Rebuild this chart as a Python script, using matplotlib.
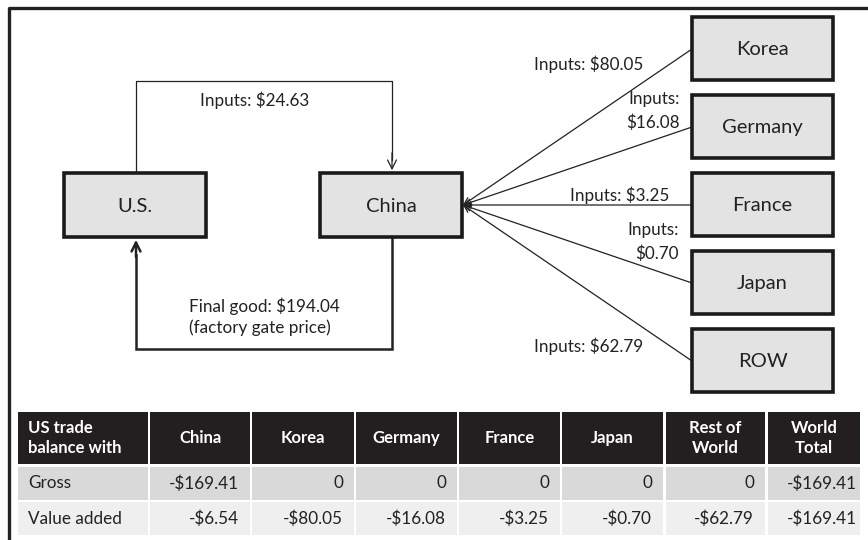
import matplotlib.pyplot as plt
from matplotlib.patches import Rectangle, FancyArrowPatch

plt.rcParams['font.family'] = ['Lato', 'DejaVu Sans']

# values shown in the diagram (iPhone value chain)
us_inputs = 24.63
final_good = 194.04
suppliers = ["Korea", "Germany", "France", "Japan", "ROW"]
supplier_inputs = [80.05, 16.08, 3.25, 0.70, 62.79]

# trade balance table
col_headers = ["US trade\nbalance with", "China", "Korea", "Germany", "France",
               "Japan", "Rest of\nWorld", "World\nTotal"]
row_labels = ["Gross", "Value added"]
gross = [-169.41, 0, 0, 0, 0, 0, -169.41]
value_added = [-6.54, -80.05, -16.08, -3.25, -0.70, -62.79, -169.41]


def fmt(v):
    if v == 0:
        return "0"
    return "-$%.2f" % abs(v)


fig = plt.figure(figsize=(8.68, 5.40), dpi=100)
ax = fig.add_axes([0, 0, 1, 1])
ax.set_xlim(0, 868)
ax.set_ylim(540, 0)
ax.axis("off")

line_col = "#222222"
txt_col = "#222222"
box_fill = "#e3e3e3"

# outer frame (top and left only are visible)
ax.plot([9, 9, 868], [540, 8, 8], color="#222222", lw=2.4, solid_capstyle="butt")


def box(x0, y0, x1, y1, text):
    ax.add_patch(Rectangle((x0, y0), x1 - x0, y1 - y0, facecolor=box_fill,
                           edgecolor="#1a1a1a", lw=2.6, zorder=3))
    ax.text((x0 + x1) / 2, (y0 + y1) / 2 + 1, text, ha="center", va="center",
            fontsize=14.5, color=txt_col, zorder=4)


# U.S. and China boxes
box(64, 173, 206, 237, "U.S.")
box(320, 173, 462, 237, "China")

# supplier boxes
top = 17
for i, name in enumerate(suppliers):
    y0 = top + i * 78
    box(692, y0, 833, y0 + 63, name)

# US -> China inputs
ax.plot([136, 136, 392, 392], [173, 81, 81, 160], color=line_col, lw=0.9, zorder=1)
ax.add_patch(FancyArrowPatch((392, 150), (392, 173), arrowstyle="->",
                             mutation_scale=16, color=line_col, lw=0.9, zorder=2))
ax.text(255, 100, "Inputs: $%.2f" % us_inputs, ha="center", va="center",
        fontsize=12.3, color=txt_col)

# China -> US final good
ax.plot([392, 392, 136, 136], [237, 349, 349, 255], color=line_col, lw=1.8,
        zorder=1, solid_joinstyle="miter")
ax.add_patch(FancyArrowPatch((136, 260), (136, 237), arrowstyle="->",
                             mutation_scale=16, color=line_col, lw=1.8, zorder=2))
ax.text(189, 317, "Final good: $%.2f\n(factory gate price)" % final_good,
        ha="left", va="center", fontsize=12.3, color=txt_col, linespacing=1.3)

# supplier -> China inputs
label_pos = [(643, 64), (680, 111), (669, 195), (679, 242), (643, 346)]
two_line = [False, True, False, True, False]
for i, val in enumerate(supplier_inputs):
    y_mid = top + i * 78 + 32
    ax.add_patch(FancyArrowPatch((692, y_mid), (463, 205), arrowstyle="->",
                                 mutation_scale=12, color=line_col, lw=0.9,
                                 shrinkA=0, shrinkB=0, zorder=2))
    if two_line[i]:
        txt = "Inputs:\n$%.2f" % val
    else:
        txt = "Inputs: $%.2f" % val
    ax.text(label_pos[i][0], label_pos[i][1], txt, ha="right", va="center",
            multialignment="right", fontsize=12.3, color=txt_col, linespacing=1.5)

# table
col_edges = [(18, 148), (150, 250), (252, 354), (356, 457), (459, 560),
             (562, 663), (666, 765), (768, 860)]
row_edges = [(412, 464), (467, 500), (502, 535)]
row_fill = ["#231f20", "#d9d9d9", "#efefef"]

for j, (x0, x1) in enumerate(col_edges):
    y0, y1 = row_edges[0]
    ax.add_patch(Rectangle((x0, y0), x1 - x0, y1 - y0, facecolor=row_fill[0], lw=0))
    if j == 0:
        ax.text(x0 + 10, (y0 + y1) / 2, col_headers[j], ha="left", va="center",
                fontsize=12, fontweight="bold", color="white", linespacing=1.35)
    else:
        ax.text((x0 + x1) / 2, (y0 + y1) / 2, col_headers[j], ha="center",
                va="center", fontsize=12, fontweight="bold", color="white",
                linespacing=1.35)

for r, vals in enumerate([gross, value_added]):
    y0, y1 = row_edges[r + 1]
    for j, (x0, x1) in enumerate(col_edges):
        ax.add_patch(Rectangle((x0, y0), x1 - x0, y1 - y0,
                               facecolor=row_fill[r + 1], lw=0))
        if j == 0:
            ax.text(x0 + 10, (y0 + y1) / 2, row_labels[r], ha="left",
                    va="center", fontsize=12.3, color=txt_col)
        else:
            pad = 3 if j == len(col_edges) - 1 else 11
            ax.text(x1 - pad, (y0 + y1) / 2, fmt(vals[j - 1]), ha="right",
                    va="center", fontsize=12.3, color=txt_col)

fig.savefig("out.png", dpi=100)
